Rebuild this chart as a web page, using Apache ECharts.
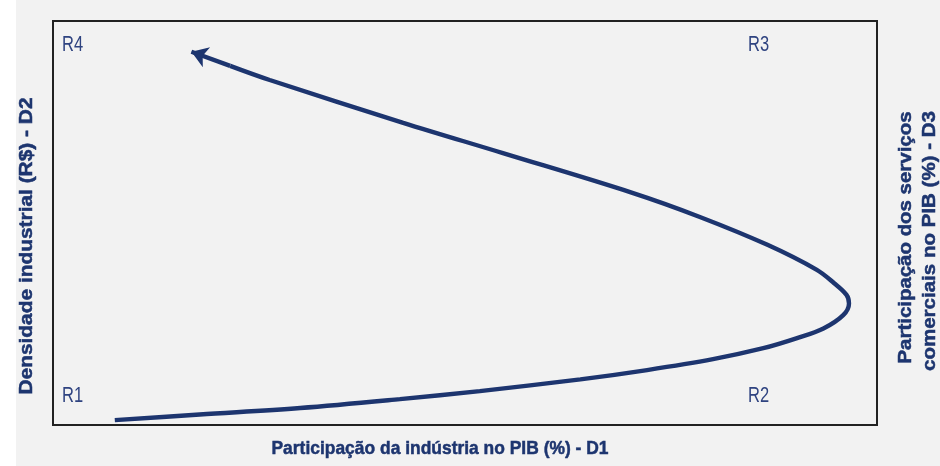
<!DOCTYPE html>
<html>
<head>
<meta charset="utf-8">
<script src="https://cdn.jsdelivr.net/npm/echarts@6/dist/echarts.min.js"></script>
<style>
  html, body { margin: 0; padding: 0; background: #fff; }
  #chart { width: 940px; height: 466px; background: linear-gradient(to right, #fff 16px, #f2f2f2 16px); }
</style>
</head>
<body>
<div id="chart"></div>
<script>
// curve, axes 0..100 on both dimensions
const curveX = [7.5, 17.8, 30.0, 42.1, 51.8, 64.0, 72.1, 80.1, 86.2, 90.3, 93.5, 95.9, 96.6, 96.3, 94.8, 92.7, 86.7, 78.5, 70.4, 54.6, 42.5, 26.3, 21.5];
const curveY = [1.2, 2.6, 4.2, 6.4, 8.4, 11.3, 13.6, 16.3, 19.0, 21.5, 23.9, 27.2, 30.1, 32.2, 35.1, 38.4, 44.6, 51.5, 57.4, 67.3, 74.8, 85.4, 88.9];
const arrowEnd = [16.8, 92.4];

const xName = 'Participação da indústria no PIB (%) - D1';
const yName = 'Densidade industrial (R$) - D2';
const y2Lines = ['Participação dos serviços', 'comerciais no PIB (%) - D3'];
const regionLabels = ['R1', 'R2', 'R3', 'R4'];

const navy = '#1d356f';
const titleFont = 'bold 19px "Liberation Sans", Arial, sans-serif';
const tagFont = '22px "Liberation Sans", Arial, sans-serif';

// the original uses a condensed face, squeeze Liberation Sans to the same width
const ctx = document.createElement('canvas').getContext('2d');
function squeeze(text, font, target) {
    ctx.font = font;
    return target / ctx.measureText(text).width;
}

const chart = echarts.init(document.getElementById('chart'), null, {renderer: 'canvas'});

const curveData = curveX.map((x, i) => [x, curveY[i]]);
const last = curveData[curveData.length - 1];

// region tags at the corners (pixel offsets)
const tagPos = {R1: [62, 385], R2: [748, 385], R3: [748, 34], R4: [62, 34]};

function title(text, x, y, width, rot) {
    return {
        type: 'text',
        x: x, y: y,
        rotation: rot || 0,
        scaleX: squeeze(text, titleFont, width),
        style: {
            text: text,
            fill: navy,
            stroke: navy,
            lineWidth: 0.5,
            font: titleFont,
            align: 'center',
            verticalAlign: 'middle'
        },
        z: 10
    };
}

const graphics = regionLabels.map(r => ({
    type: 'text',
    x: tagPos[r][0],
    y: tagPos[r][1],
    scaleX: 0.75,
    style: {
        text: r,
        fill: '#2f4380',
        font: tagFont
    },
    z: 10
}));
graphics.push(title(xName, 440, 449, 337));
graphics.push(title(yName, 27, 246, 297, Math.PI / 2));
graphics.push(title(y2Lines[0], 905.5, 237.5, 252, Math.PI / 2));
graphics.push(title(y2Lines[1], 929.5, 241, 260, Math.PI / 2));

const option = {
    backgroundColor: 'transparent',
    animation: false,
    grid: {
        left: 53, top: 21, width: 824, height: 404,
        outerBoundsMode: 'none',
        containLabel: false,
        show: true,
        borderColor: '#222',
        borderWidth: 2,
        backgroundColor: '#f2f2f2'
    },
    xAxis: {
        type: 'value', min: 0, max: 100,
        axisLine: {show: false}, axisTick: {show: false},
        axisLabel: {show: false}, splitLine: {show: false}
    },
    yAxis: {
        type: 'value', min: 0, max: 100,
        axisLine: {show: false}, axisTick: {show: false},
        axisLabel: {show: false}, splitLine: {show: false}
    },
    graphic: graphics,
    series: [
        {
            type: 'line',
            data: curveData,
            smooth: 0.35,
            symbol: 'none',
            lineStyle: {color: navy, width: 4.4},
            silent: true
        },
        {
            type: 'lines',
            coordinateSystem: 'cartesian2d',
            symbol: ['none', 'arrow'],
            symbolSize: [14, 16],
            lineStyle: {color: navy, width: 4.4, opacity: 1},
            data: [{coords: [last, arrowEnd]}],
            silent: true
        }
    ]
};

chart.setOption(option);
</script>
</body>
</html>
